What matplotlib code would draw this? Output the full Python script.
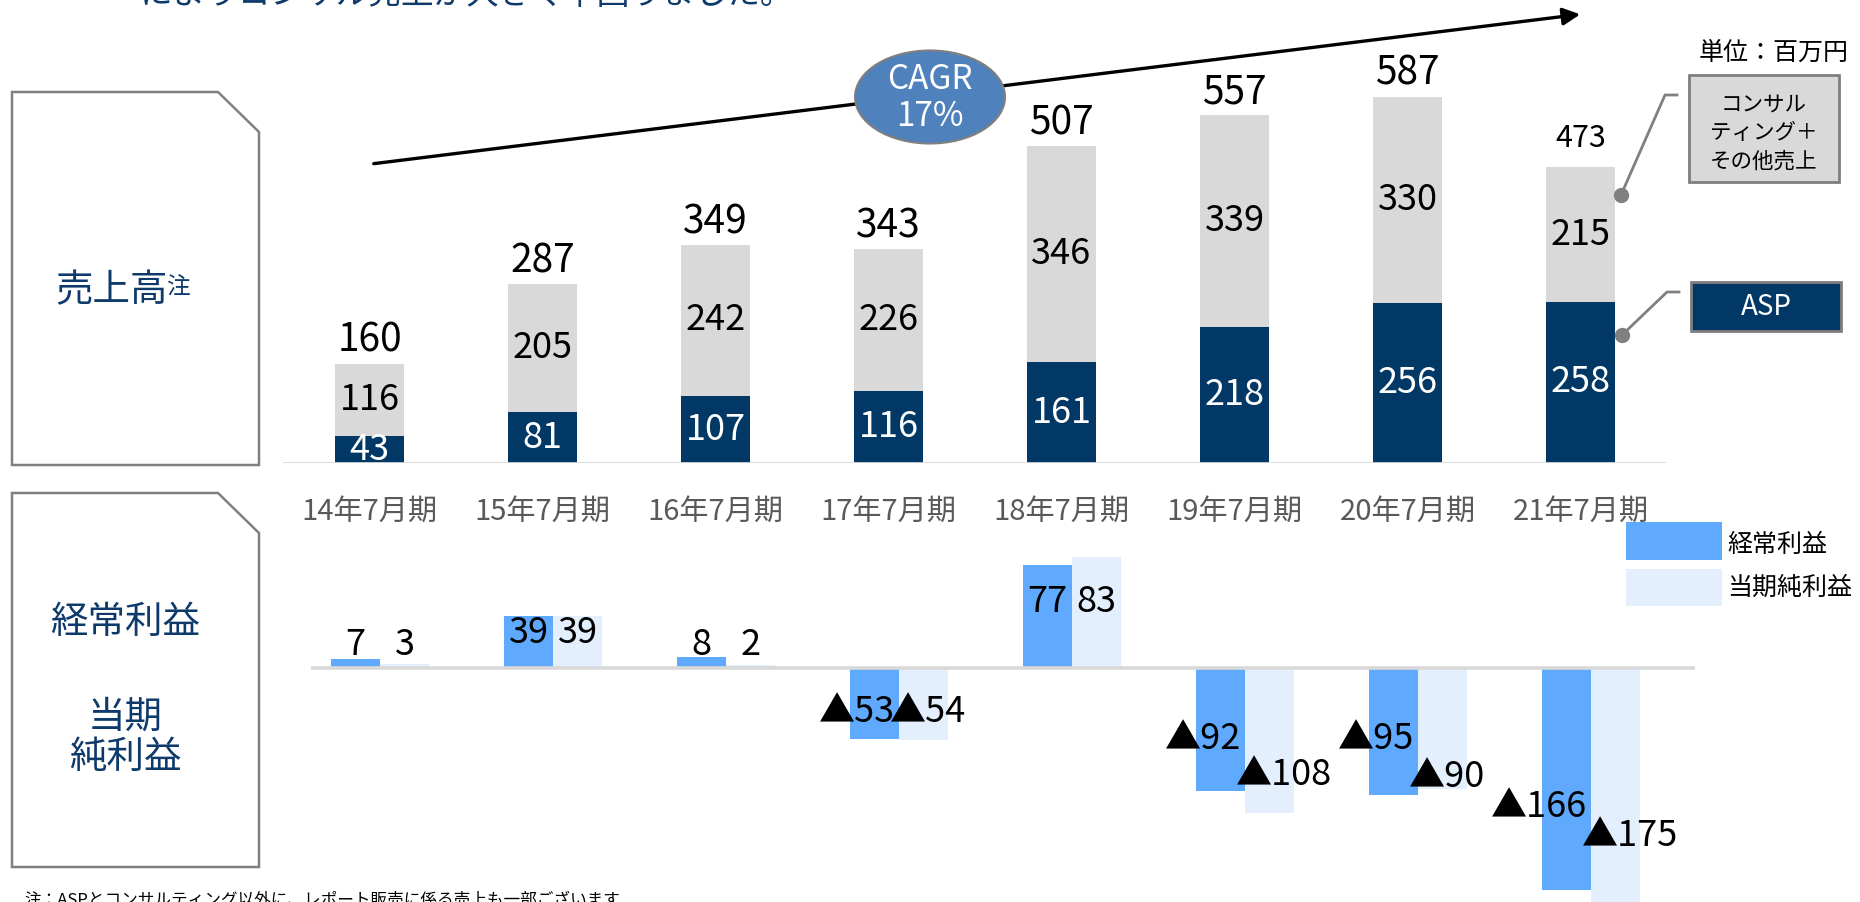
import matplotlib

matplotlib.use("Agg")
import matplotlib.pyplot as plt
from matplotlib.patches import Polygon, Ellipse, Rectangle, FancyArrowPatch

plt.rcParams["font.family"] = ["Noto Sans CJK JP", "DejaVu Sans"]

# ---- data (百万円) ----
periods = ["14年7月期", "15年7月期", "16年7月期", "17年7月期",
           "18年7月期", "19年7月期", "20年7月期", "21年7月期"]
asp = [43, 81, 107, 116, 161, 218, 256, 258]
consulting = [116, 205, 242, 226, 346, 339, 330, 215]
sales_total = [160, 287, 349, 343, 507, 557, 587, 473]
ordinary_profit = [7, 39, 8, -53, 77, -92, -95, -166]
net_profit = [3, 39, 2, -54, 83, -108, -90, -175]

# label heights in the lower panel (value units)
op_label_y = [17, 26, 17, -33, 49, -53, -53, -104]
net_label_y = [17, 26, 17, -33, 49, -80, -81, -125]

NAVY = "#023866"
GRAY = "#d9d9d9"
BLUE = "#5fa9ff"
LIGHT = "#e3effd"
TXT_NAVY = "#0e3a6b"

W, H = 1860, 902
fig = plt.figure(figsize=(W / 100, H / 100), dpi=100)


def px_axes(left, right, bottom_from_top, top_from_top):
    return fig.add_axes([left / W, 1 - bottom_from_top / H,
                         (right - left) / W, (bottom_from_top - top_from_top) / H])


def fmt(v):
    return f"▲{-v}" if v < 0 else f"{v}"


# ---- upper panel: sales ----
top_scale = 0.625  # px per unit
ax = px_axes(283, 1666, 463, 0)
x = list(range(len(periods)))
ax.set_xlim((283 - 369.5) / 173, (1666 - 369.5) / 173)
ax.set_ylim(0, 463 / top_scale)
ax.bar(x, asp, width=0.40, color=NAVY, zorder=2)
ax.bar(x, consulting, bottom=asp, width=0.40, color=GRAY, zorder=2)
ax.axhline(0, color=GRAY, lw=2, zorder=3)
ax.axis("off")

total_size = [28] * 7 + [22]
total_gap = [18] * 7 + [32]
for i in x:
    ax.text(i, asp[i] / 2, str(asp[i]), ha="center", va="center",
            color="white", fontsize=26, zorder=4)
    ax.text(i, asp[i] + consulting[i] / 2, str(consulting[i]), ha="center",
            va="center", color="black", fontsize=26, zorder=4)
    ax.text(i, sales_total[i] + total_gap[i], str(sales_total[i]), ha="center",
            va="baseline", color="black", fontsize=total_size[i], zorder=4)
    ax.text(i, -(512 - 463) / top_scale, periods[i], ha="center", va="center",
            color="#595959", fontsize=21, clip_on=False)

# ---- lower panel: profits ----
bot_scale = 1.34
ax2 = px_axes(311, 1695, H, 542)
ax2.set_xlim((311 - 380) / 173, (1695 - 380) / 173)
ax2.set_ylim(-(H - 668) / bot_scale, (668 - 542) / bot_scale)
bw = 49 / 173
xo = [i - bw / 2 for i in x]
xn = [i + bw / 2 for i in x]
ax2.bar(xo, ordinary_profit, width=bw, color=BLUE, zorder=2)
ax2.bar(xn, net_profit, width=bw, color=LIGHT, zorder=2)
ax2.axhline(0, color=GRAY, lw=2.6, zorder=3)
ax2.axis("off")

for i in x:
    op, nt = ordinary_profit[i], net_profit[i]
    if op >= 0:
        ax2.text(xo[i], op_label_y[i], fmt(op), ha="center", va="center", fontsize=26, zorder=4)
    else:
        ax2.text(i - 0.02, op_label_y[i], fmt(op), ha="right", va="center", fontsize=26, zorder=4)
    if nt >= 0:
        ax2.text(xn[i], net_label_y[i], fmt(nt), ha="center", va="center", fontsize=26, zorder=4)
    else:
        ax2.text(i - 0.05, net_label_y[i], fmt(nt), ha="left", va="center", fontsize=26, zorder=4)

# ---- overlay in pixel coordinates ----
ov = fig.add_axes([0, 0, 1, 1])
ov.set_xlim(0, W)
ov.set_ylim(H, 0)
ov.axis("off")
ov.patch.set_alpha(0)

ov.text(140, 4, "によりコンサル売上が大きく下回りました。", color=TXT_NAVY,
        fontsize=23.5, va="baseline", ha="left")

for top, bot in [(92, 465), (493, 867)]:
    ov.add_patch(Polygon([(12, top), (218, top), (259, top + 40), (259, bot), (12, bot)],
                         closed=True, facecolor="white", edgecolor="#808080", lw=1.8))

ov.text(55, 291, "売上高", color=TXT_NAVY, fontsize=27, ha="left", va="center")
ov.text(166, 277, "注", color=TXT_NAVY, fontsize=17, ha="left", va="top")
ov.text(125, 622, "経常利益", color=TXT_NAVY, fontsize=27, ha="center", va="center")
ov.text(125, 717, "当期", color=TXT_NAVY, fontsize=27, ha="center", va="center")
ov.text(125, 757, "純利益", color=TXT_NAVY, fontsize=27, ha="center", va="center")

# growth arrow + CAGR bubble
ov.add_patch(FancyArrowPatch((371, 164), (1583, 14), arrowstyle="-|>",
                             mutation_scale=26, lw=2.4, color="black", zorder=2))
ov.add_patch(Ellipse((930, 97), 150, 93, facecolor="#4f81bd",
                     edgecolor="#7f7f7f", lw=1.5, zorder=3))
ov.text(930, 98, "CAGR\n17%", color="white", fontsize=24, ha="center",
        va="center", linespacing=1.05, zorder=4)

# unit + series callouts
ov.text(1774, 53, "単位：百万円", fontsize=18, ha="center", va="center")
ov.add_patch(Rectangle((1689, 75), 150, 107, facecolor=GRAY, edgecolor="#7f7f7f", lw=2))
ov.text(1764, 133, "コンサル\nティング＋\nその他売上", fontsize=15.5, ha="center",
        va="center", linespacing=1.4)
ov.add_patch(Rectangle((1691, 282), 150, 49, facecolor=NAVY, edgecolor="#7f7f7f", lw=2))
ov.text(1766, 307, "ASP", color="white", fontsize=20, ha="center", va="center")
ov.plot([1621, 1665, 1677], [195, 95, 95], color="#808080", lw=2)
ov.plot([1622, 1667, 1679], [335, 292, 292], color="#808080", lw=2)
ov.plot([1621, 1622], [195, 335], ls="none", marker="o", ms=10, color="#808080")

# profit legend
ov.add_patch(Rectangle((1626, 522), 96, 38, facecolor=BLUE, edgecolor="none"))
ov.add_patch(Rectangle((1626, 569), 96, 37, facecolor=LIGHT, edgecolor="none"))
ov.text(1727, 545, "経常利益", fontsize=18, ha="left", va="center")
ov.text(1727, 588, "当期純利益", fontsize=18, ha="left", va="center")

ov.text(24, 891, "注：ASPとコンサルティング以外に、レポート販売に係る売上も一部ございます",
        fontsize=12, ha="left", va="top")

fig.savefig("out.png", dpi=100)
plt.close(fig)
